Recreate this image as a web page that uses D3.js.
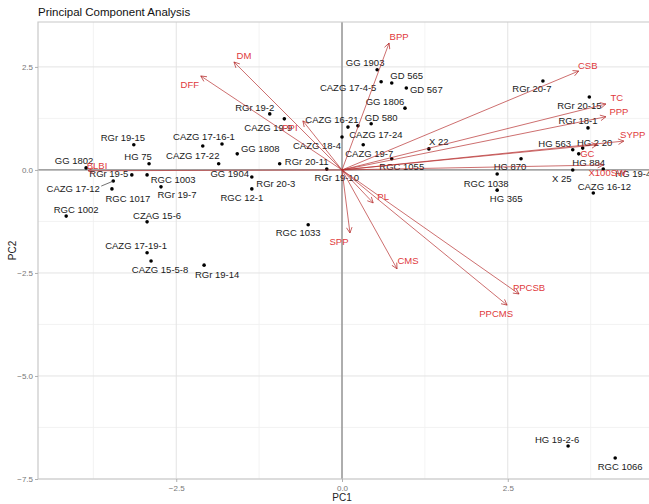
<!DOCTYPE html>
<html>
<head>
<meta charset="utf-8">
<script src="https://cdn.jsdelivr.net/npm/d3@7"></script>
<style>
  body { margin: 0; background: #fff; }
  svg text { font-family: "Liberation Sans", Arial, sans-serif; }
</style>
</head>
<body>
<div id="chart"></div>
<script>
// genotype scores on PC1 / PC2
var genotypes = ['GG 1802','RGr 19-15','HG 75','RGr 19-5','RGC 1003','CAZG 17-12','RGC 1017','RGr 19-7','RGC 1002','CZAG 15-6',
  'CAZG 17-19-1','CAZG 15-5-8','RGr 19-14','CAZG 17-16-1','CAZG 17-22','GG 1904','GG 1808','RGr 20-3','RGC 12-1','RGr 20-11',
  'RGr 19-2','CAZG 19-9','RGr 19-10','RGC 1033','GG 1903','CAZG 17-4-5','GD 565','GD 567','GG 1806','CAZG 16-21',
  'CAZG 17-24','GD 580','CAZG 18-4','CAZG 19-7','RGC 1055','X 22','HG 870','RGC 1038','HG 365','RGr 20-7',
  'RGr 20-15','RGr 18-1','HG 563','HG 2 20','HG 884','X 25','HG 19-4','CAZG 16-12','HG 19-2-6','RGC 1066'];
var pc1 = [-3.86,-3.14,-2.91,-3.17,-2.94,-3.45,-3.47,-2.73,-4.16,-2.94,
  -2.94,-2.88,-2.08,-1.81,-2.10,-1.86,-1.58,-1.36,-1.36,-0.94,
  -1.09,-0.87,-0.23,-0.51,0.53,0.59,0.75,0.97,0.95,0.09,
  0.24,0.44,0.00,0.32,0.75,1.31,2.70,2.34,2.34,3.03,
  3.73,3.71,3.48,3.63,3.57,3.48,3.94,3.79,3.41,4.12];
var pc2 = [0.05,0.61,0.15,-0.12,-0.12,-0.27,-0.46,-0.41,-1.12,-1.26,
  -2.01,-2.21,-2.31,0.63,0.58,0.15,0.39,-0.17,-0.46,0.15,
  1.36,1.24,0.02,-1.33,2.43,2.14,2.11,1.99,1.50,1.04,
  1.07,1.12,0.80,0.61,0.27,0.51,0.27,-0.10,-0.49,2.16,
  1.77,1.02,0.49,0.53,0.39,0.00,0.02,-0.56,-6.70,-6.99];
// where the repelled labels ended up, relative to each point (px)
var nudgeX = [-12,-11,-11,-23,26,-40,16,16,10,10, -11,9,13,-18,-10,11,23,24,-10,27,
  -15,-16,10,-10,-12,-33,15,20,-20,-16, 18,10,-25,6,10,10,-11,-11,9,-11,
  -10,-10,-18,12,10,-11,30,11,-11,5];
var nudgeY = [-7,-7,-7,-1,5,7,10,8,-7,-6, -7,8,9,-7,9,10,-5,7,9,-2,
  -6,9,8,8,-7,6,-7,2,-7,-8, 9,-6,9,9,8,-7,8,9,8,8,
  9,-7,-6,-6,9,9,4,-7,-7,9];

// trait loadings (scaled)
var traits = ['DM','DFF','PPI','BLBI','BPP','CSB','TC','PPP','SYPP','GC','X100SW','PL','SPP','CMS','PPCSB','PPCMS'];
var load1 = [-1.63,-2.13,-0.59,-3.83,0.71,3.57,3.98,3.98,4.25,3.85,3.94,0.47,0.12,0.83,2.67,2.49];
var load2 = [2.62,2.28,1.19,-0.02,3.08,2.40,1.60,1.29,0.70,0.61,0.12,-0.80,-1.53,-2.40,-3.01,-3.28];
var traitNudgeX = [10,-11,-13,9,10,9,11,13,9,-10,4,10,-11,11,10,-11];
var traitNudgeY = [-6,9,7,-5,-7,-6,-7,-5,-7,9,8,-6,9,-8,-6,8];

var xTicks = [-2.5, 0, 2.5];
var xMinor = [-3.75, -1.25, 1.25, 3.75];
var yTicks = [-7.5, -5, -2.5, 0, 2.5];
var yMinor = [-6.25, -3.75, -1.25, 1.25];

var W = 649, H = 504;
var pLeft = 38, pRight = 649, pTop = 22, pBottom = 479;

var x = d3.scaleLinear().domain([-4.585, 4.63]).range([pLeft, pRight]);
var y = d3.scaleLinear().domain([-7.5, 3.59]).range([pBottom, pTop]);

var svg = d3.select('#chart').append('svg')
  .attr('width', W).attr('height', H);

svg.append('defs').append('marker')
  .attr('id', 'arr')
  .attr('viewBox', '0 0 10 10')
  .attr('refX', 9).attr('refY', 5)
  .attr('markerWidth', 7).attr('markerHeight', 7)
  .attr('markerUnits', 'userSpaceOnUse')
  .attr('orient', 'auto')
  .append('path')
  .attr('d', 'M1,1 L9,5 L1,9')
  .attr('fill', 'none')
  .attr('stroke', '#b52a2a')
  .attr('stroke-width', 1);

var g = svg.append('g');

// grid
g.selectAll('.xminor').data(xMinor).enter().append('line')
  .attr('x1', function(d) { return x(d); }).attr('x2', function(d) { return x(d); })
  .attr('y1', pTop).attr('y2', pBottom)
  .attr('stroke', '#f0f0f0').attr('stroke-width', 0.8);
g.selectAll('.yminor').data(yMinor).enter().append('line')
  .attr('y1', function(d) { return y(d); }).attr('y2', function(d) { return y(d); })
  .attr('x1', pLeft).attr('x2', pRight)
  .attr('stroke', '#f0f0f0').attr('stroke-width', 0.8);
g.selectAll('.xmajor').data(xTicks).enter().append('line')
  .attr('x1', function(d) { return x(d); }).attr('x2', function(d) { return x(d); })
  .attr('y1', pTop).attr('y2', pBottom)
  .attr('stroke', '#e3e3e3').attr('stroke-width', 1);
g.selectAll('.ymajor').data(yTicks).enter().append('line')
  .attr('y1', function(d) { return y(d); }).attr('y2', function(d) { return y(d); })
  .attr('x1', pLeft).attr('x2', pRight)
  .attr('stroke', '#e3e3e3').attr('stroke-width', 1);

// zero lines
g.append('line').attr('x1', pLeft).attr('x2', pRight).attr('y1', y(0)).attr('y2', y(0))
  .attr('stroke', '#8a8a8a').attr('stroke-width', 1.3);
g.append('line').attr('x1', x(0)).attr('x2', x(0)).attr('y1', pTop).attr('y2', pBottom)
  .attr('stroke', '#8a8a8a').attr('stroke-width', 1.3);

// panel border
g.append('path')
  .attr('d', 'M' + pRight + ',' + pTop + ' L' + pLeft + ',' + pTop + ' L' + pLeft + ',' + pBottom + ' L' + pRight + ',' + pBottom)
  .attr('fill', 'none').attr('stroke', '#c8c8c8').attr('stroke-width', 1.2);

// axes
var xAxis = svg.append('g').attr('transform', 'translate(0,' + pBottom + ')')
  .call(d3.axisBottom(x).tickValues(xTicks).tickSize(3).tickPadding(3).tickFormat(d3.format('.1f')));
var yAxis = svg.append('g').attr('transform', 'translate(' + pLeft + ',0)')
  .call(d3.axisLeft(y).tickValues(yTicks).tickSize(3).tickPadding(2).tickFormat(d3.format('.1f')));
[xAxis, yAxis].forEach(function(a) {
  a.select('.domain').remove();
  a.selectAll('line').attr('stroke', '#b0b0b0');
  a.selectAll('text').attr('fill', '#777').style('font-size', '8px');
});

// points
var pts = genotypes.map(function(n, i) { return {name: n, x: pc1[i], y: pc2[i], dx: nudgeX[i], dy: nudgeY[i]}; });

g.selectAll('.pt').data(pts).enter().append('circle')
  .attr('cx', function(d) { return x(d.x); })
  .attr('cy', function(d) { return y(d.y); })
  .attr('r', 1.8)
  .attr('fill', '#000');

// leader segment for the label pushed away
pts.filter(function(d) { return Math.abs(d.dx) > 35; }).forEach(function(d) {
  g.append('line')
    .attr('x1', x(d.x)).attr('y1', y(d.y))
    .attr('x2', x(d.x) + d.dx + 28).attr('y2', y(d.y) + d.dy - 2)
    .attr('stroke', '#333').attr('stroke-width', 0.7);
});

g.selectAll('.lab').data(pts).enter().append('text')
  .attr('x', function(d) { return x(d.x) + d.dx; })
  .attr('y', function(d) { return y(d.y) + d.dy; })
  .attr('text-anchor', 'middle')
  .attr('dominant-baseline', 'central')
  .style('font-size', '9.5px')
  .attr('fill', '#1a1a1a')
  .text(function(d) { return d.name; });

// loading arrows
var loads = traits.map(function(n, i) { return {name: n, x: load1[i], y: load2[i], dx: traitNudgeX[i], dy: traitNudgeY[i]}; });

g.selectAll('.ld').data(loads).enter().append('line')
  .attr('x1', x(0)).attr('y1', y(0))
  .attr('x2', function(d) { return x(d.x); })
  .attr('y2', function(d) { return y(d.y); })
  .attr('stroke', '#b52a2a')
  .attr('stroke-opacity', 0.9)
  .attr('stroke-width', 0.75)
  .attr('marker-end', 'url(#arr)');

g.selectAll('.ldlab').data(loads).enter().append('text')
  .attr('x', function(d) { return x(d.x) + d.dx; })
  .attr('y', function(d) { return y(d.y) + d.dy; })
  .attr('text-anchor', 'middle')
  .attr('dominant-baseline', 'central')
  .style('font-size', '9.5px')
  .attr('fill', '#e0393b')
  .text(function(d) { return d.name; });

// titles
svg.append('text').attr('x', pLeft).attr('y', 16)
  .style('font-size', '11.5px').attr('fill', '#111')
  .text('Principal Component Analysis');
svg.append('text').attr('x', x(0)).attr('y', 501)
  .attr('text-anchor', 'middle').style('font-size', '10px').attr('fill', '#222')
  .text('PC1');
svg.append('text').attr('transform', 'translate(16,' + ((pTop + pBottom) / 2) + ') rotate(-90)')
  .attr('text-anchor', 'middle').style('font-size', '10px').attr('fill', '#222')
  .text('PC2');
</script>
</body>
</html>
